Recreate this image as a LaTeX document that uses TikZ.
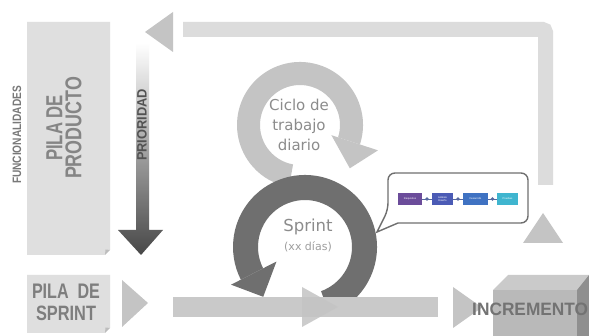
\documentclass[tikz,border=0pt]{standalone}
\usepackage{fontspec}
\setmainfont{Liberation Sans}
\newfontfamily\dvsans{DejaVu Sans}
\usetikzlibrary{calc}
\definecolor{bandlight}{HTML}{DCDCDC}
\definecolor{bandmid}{HTML}{C9C9C9}
\definecolor{trigray}{HTML}{C4C4C4}
\definecolor{boxgray}{HTML}{DFDFDF}
\definecolor{foldgray}{HTML}{BDBDBD}
\definecolor{labelgray}{HTML}{858585}
\definecolor{ringlight}{HTML}{C4C4C4}
\definecolor{ringdark}{HTML}{6F6F6F}
\definecolor{cycletext}{HTML}{8C8C8C}
\definecolor{cubefront}{HTML}{B9B9B9}
\definecolor{cubetop}{HTML}{CACACA}
\definecolor{cuberight}{HTML}{8F8F8F}
\definecolor{pA}{HTML}{6B4C9A}
\definecolor{pB}{HTML}{4B5BB5}
\definecolor{pC}{HTML}{3F72C2}
\definecolor{pD}{HTML}{3FB5CF}
\definecolor{dotc}{HTML}{56689E}
\tikzset{
  bigtxt/.style={font=\bfseries\fontsize{23}{19}\selectfont, text=labelgray, align=center, inner sep=0},
  sprtxt/.style={font=\bfseries\fontsize{20}{22}\selectfont, text=labelgray!95!black, align=center, inner sep=0},
  smallrot/.style={rotate=90, inner sep=0},
  procbox/.style={minimum height=12pt, inner sep=0, text=white, align=center,
     font=\fontsize{2.6}{2.8}\selectfont},
  procdot/.style={circle, fill=dotc, inner sep=1.3pt},
  callout/.style={draw=ringdark, line width=1.4pt, fill=white},
}
\begin{document}
\begin{tikzpicture}[x=1pt,y=1pt]
\useasboundingbox (0,0) rectangle (589,336);
\fill[white] (0,0) rectangle (589,336);

% top return band
\draw[bandlight, line width=15pt, rounded corners=3pt] (183,306.5) -- (545.5,306.5) -- (545.5,151);
\fill[trigray] (145,304) -- (173,324) -- (173,284) -- cycle;
\fill[trigray] (523,93) -- (563,93) -- (543,123) -- cycle;

% pila de producto
\fill[boxgray] (27,314) -- (110,314) -- (110,86) -- (105,81) -- (27,81) -- cycle;
\fill[foldgray] (105,81) -- (110,86) -- (105.5,86.5) -- cycle;
\node[bigtxt, rotate=90] (pp) at (64,208) {\resizebox{66pt}{16pt}{PILA DE}\\\resizebox{102pt}{16pt}{PRODUCTO}};
\node[smallrot, font=\bfseries, text=labelgray!90!black] (func) at (17,201) {\resizebox{98pt}{8.5pt}{FUNCIONALIDADES}};

% prioridad arrow
\shade[top color=white, middle color=black!14, bottom color=black!72]
  (136,293) -- (149,293) -- (149,106) -- (163,106) -- (141,81) -- (118,106) -- (136,106) -- cycle;
\node[smallrot, font=\bfseries, text=black!68] (prio) at (142,211) {\resizebox{72pt}{9.5pt}{PRIORIDAD}};

% daily cycle ring
\coordinate (lc) at (300,211);
\fill[ringlight] ($(lc)+(-18:63)$) arc[start angle=-18, end angle=260, radius=63pt]
  -- ($(lc)+(260:40)$) arc[start angle=260, end angle=-18, radius=40pt] -- cycle;
\fill[ringlight] ($(lc)+(-18:33)$) -- ($(lc)+(-18:82)$) -- ($(lc)+(-41:66)$) -- cycle;
\node[font=\dvsans\fontsize{15}{20}\selectfont, text=cycletext, align=center] (ciclo) at (299,211) {Ciclo de\\trabajo\\diario};

% sprint ring
\coordinate (dc) at (305,89);
\fill[ringdark] ($(dc)+(-70:72)$) arc[start angle=-70, end angle=207, radius=72pt]
  -- ($(dc)+(207:47)$) arc[start angle=207, end angle=-70, radius=47pt] -- cycle;
\fill[ringdark] ($(dc)+(207:32)$) -- ($(dc)+(207:83)$) -- ($(dc)+(230:65)$) -- cycle;
\node[font=\dvsans\fontsize{16.5}{16.5}\selectfont, text=cycletext] (sprint) at (308,109) {Sprint};
\node[font=\dvsans\fontsize{11}{11}\selectfont, text=black!38] (dias) at (308,89) {(xx días)};

% pila de sprint
\fill[boxgray] (27,61) -- (110,61) -- (110,8) -- (105,3) -- (27,3) -- cycle;
\fill[foldgray] (105,3) -- (110,8) -- (105.5,8.5) -- cycle;
\node[sprtxt] (ps) at (66,34) {\resizebox{68pt}{14.5pt}{PILA\ \ DE}\\\resizebox{60pt}{14.5pt}{SPRINT}};

% bottom flow
\fill[trigray] (122,56) -- (148,33) -- (122,9) -- cycle;
\fill[bandmid] (173,19) rectangle (438,39);
\fill[trigray, opacity=0.85] (302,49) -- (338,29) -- (302,9) -- cycle;
\fill[trigray] (453,49) -- (482,28.5) -- (453,8) -- cycle;

% callout
\draw[callout] (398,113) [rounded corners=7pt] -- (528,113) -- (528,163) -- (388,163) -- (388,126) [sharp corners] -- (377,104) -- cycle;
\node[procbox, fill=pA, minimum width=24pt] (b1) at (410,137) {Requisitos};
\node[procbox, fill=pB, minimum width=21pt] (b2) at (442.5,137) {Análisis\\Diseño};
\node[procbox, fill=pC, minimum width=25pt] (b3) at (475.5,137) {Desarrollo};
\node[procbox, fill=pD, minimum width=21pt] (b4) at (507.5,137) {Pruebas};
\draw[dotc, line width=0.6pt] (b1) -- (b2) node[midway, procdot] {};
\draw[dotc, line width=0.6pt] (b2) -- (b3) node[midway, procdot] {};
\draw[dotc, line width=0.6pt] (b3) -- (b4) node[midway, procdot] {};

% increment cube
\fill[cubefront] (493,0) rectangle (577,46);
\fill[cubetop] (493,46) -- (508,61) -- (589,61) -- (577,46) -- cycle;
\fill[cuberight] (577,46) -- (589,61) -- (589,0) -- (577,0) -- cycle;
\node[anchor=west, inner sep=0, font=\bfseries, text=black!55] (inc) at (472,27) {\resizebox{116pt}{12.5pt}{INCREMENTO}};
\end{tikzpicture}
\end{document}
